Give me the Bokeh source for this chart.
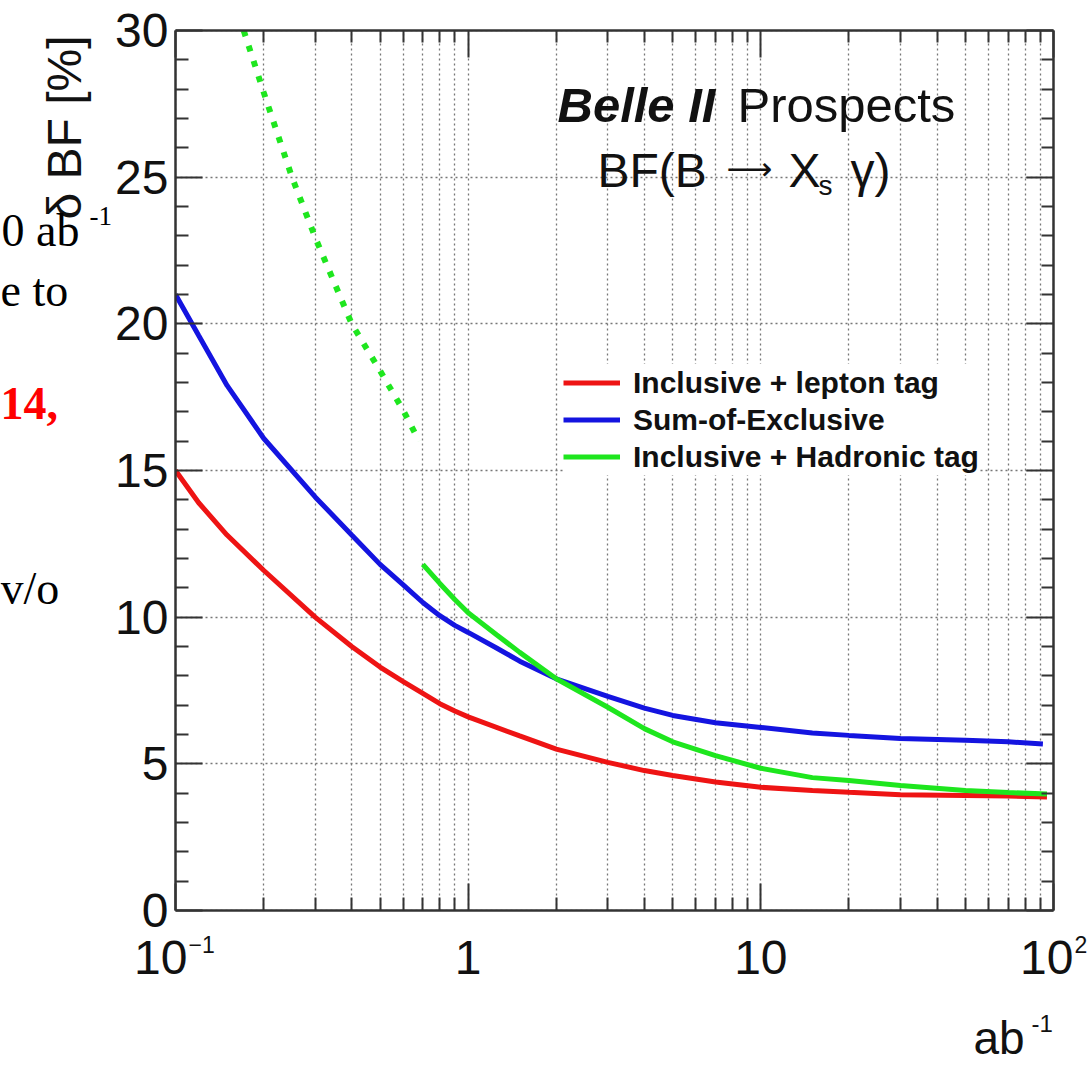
import math
from bokeh.plotting import figure
from bokeh.models import (FixedTicker, LogAxis, LinearAxis, Label, Legend,
                          LegendItem, Range1d, Grid, BoxAnnotation,
                          CustomJSTickFormatter)
from bokeh.embed import file_html
from bokeh.resources import INLINE

# ---------------- data ----------------
lep_x = [0.1, 0.12, 0.15, 0.2, 0.3, 0.4, 0.5, 0.6, 0.7, 0.8, 0.9, 1.0, 1.5, 2, 3,
         4, 5, 7, 10, 15, 20, 30, 50, 70, 95]
lep_y = [15.0, 13.9, 12.8, 11.6, 10.0, 9.0, 8.3, 7.8, 7.4, 7.05, 6.8, 6.6, 5.95,
         5.5, 5.05, 4.77, 4.6, 4.38, 4.2, 4.09, 4.03, 3.95, 3.92, 3.9, 3.87]

soe_x = [0.1, 0.12, 0.15, 0.2, 0.3, 0.4, 0.5, 0.6, 0.7, 0.8, 0.9, 1.0, 1.25, 1.5,
         2, 3, 4, 5, 7, 10, 15, 20, 30, 50, 70, 92]
soe_y = [21.0, 19.6, 17.9, 16.1, 14.1, 12.8, 11.8, 11.1, 10.5, 10.05, 9.72, 9.48,
         8.95, 8.5, 7.9, 7.3, 6.9, 6.65, 6.4, 6.24, 6.05, 5.97, 5.86, 5.8, 5.75,
         5.68]

had_x = [0.7, 0.8, 0.9, 1.0, 1.25, 1.5, 2, 3, 4, 5, 7, 10, 15, 20, 30, 50, 70, 95]
had_y = [11.8, 11.15, 10.6, 10.15, 9.4, 8.8, 7.9, 6.93, 6.2, 5.75, 5.28, 4.85,
         4.53, 4.43, 4.26, 4.09, 4.02, 3.97]

had_low_x = [0.171, 0.2, 0.25, 0.3, 0.4, 0.5, 0.6, 0.68]
had_low_y = [30.0, 27.9, 25.0, 22.95, 20.0, 18.4, 17.05, 16.0]

series_names = ["Inclusive + lepton tag", "Sum-of-Exclusive",
                "Inclusive + Hadronic tag"]

x_major = [0.1, 1, 10, 100]
x_minor = [0.2, 0.3, 0.4, 0.5, 0.6, 0.7, 0.8, 0.9, 2, 3, 4, 5, 6, 7, 8, 9,
           20, 30, 40, 50, 60, 70, 80, 90]
x_tick_base = ["10", "1", "10", "10"]
x_tick_exp = ["\u22121", "", "", "2"]
y_major = [0, 5, 10, 15, 20, 25, 30]
y_minor = [v for v in range(0, 31) if v % 5 != 0]
X_LO, X_HI = 0.1, 100
Y_LO, Y_HI = 0, 30

# ---------------- layout constants (page pixels) ----------------
W, H = 1090, 1064
FL, FR, FT, FB = 175, 1053, 30, 910      # ROOT plot frame on the page
DEC = (FR - FL) / 3.0                    # px per decade
YPX = (FB - FT) / 30.0                   # px per unit
SANS = "Liberation Sans"
SERIF = "Liberation Serif"
RED, BLUE, GREEN = "#ee1414", "#1414e0", "#1ee61e"
AX = "#333333"
TXT = "#111111"

# the Bokeh frame fills the canvas; the ROOT frame is drawn by fixed axes
xr = Range1d(10 ** (math.log10(X_LO) - FL / DEC),
             10 ** (math.log10(X_HI) + (W - FR) / DEC))
yr = Range1d(Y_LO - (H - FB) / YPX, Y_HI + FT / YPX)

p = figure(width=W, height=H, x_range=xr, y_range=yr, x_axis_type="log",
           x_axis_location=None, y_axis_location=None,
           output_backend="svg", toolbar_location=None,
           min_border_left=0, min_border_right=0, min_border_top=0,
           min_border_bottom=0)
p.background_fill_color = "white"
p.border_fill_color = "white"
p.outline_line_color = None
for g in list(p.center):
    if isinstance(g, Grid):
        p.center.remove(g)

xt = FixedTicker(ticks=x_major, minor_ticks=x_minor)
yt = FixedTicker(ticks=y_major, minor_ticks=y_minor)
blank = CustomJSTickFormatter(code="return ''")


def style_axis(ax):
    ax.axis_line_color = AX
    ax.axis_line_width = 2.5
    ax.major_tick_line_color = AX
    ax.minor_tick_line_color = AX
    ax.major_tick_line_width = 2
    ax.minor_tick_line_width = 2
    ax.major_tick_in = 27
    ax.major_tick_out = 0
    ax.minor_tick_in = 13
    ax.minor_tick_out = 0


# grids (dotted), limited to the plot area
grid_kw = dict(grid_line_color="#777777", grid_line_width=1.3,
               grid_line_dash="2 3")
xg = Grid(dimension=0, ticker=xt, bounds=(X_LO, X_HI), **grid_kw)
xg.minor_grid_line_color = "#777777"
xg.minor_grid_line_width = 1.3
xg.minor_grid_line_dash = "2 3"
yg = Grid(dimension=1, ticker=yt, bounds=(Y_LO, Y_HI), **grid_kw)
try:
    xg.cross_bounds = (Y_LO, Y_HI)
    yg.cross_bounds = (X_LO, X_HI)
except Exception:
    pass
p.add_layout(xg)
p.add_layout(yg)
# white masks outside the plot area (above the grid, below the curves/axes)
for kw in (dict(top=Y_LO), dict(bottom=Y_HI), dict(right=X_LO), dict(left=X_HI)):
    p.add_layout(BoxAnnotation(fill_color="white", fill_alpha=1.0,
                               line_color=None, level="glyph", **kw))

left = LinearAxis(ticker=yt, fixed_location=X_LO, bounds=(Y_LO, Y_HI))
style_axis(left)
left.major_label_text_font = SANS
left.major_label_text_font_size = "48px"
left.major_label_text_color = TXT
left.major_label_standoff = 7
p.add_layout(left, "left")

right = LinearAxis(ticker=yt, fixed_location=X_HI, bounds=(Y_LO, Y_HI),
                   formatter=blank)
style_axis(right)
right.minor_tick_in = 12
p.add_layout(right, "right")

bottom = LogAxis(ticker=xt, fixed_location=Y_LO, bounds=(X_LO, X_HI),
                 formatter=blank)
style_axis(bottom)
p.add_layout(bottom, "below")

top = LogAxis(ticker=xt, fixed_location=Y_HI, bounds=(X_LO, X_HI),
              formatter=blank)
style_axis(top)
top.minor_tick_in = 12
p.add_layout(top, "above")

# curves
r_lep = p.line(lep_x, lep_y, line_color=RED, line_width=5)
r_soe = p.line(soe_x, soe_y, line_color=BLUE, line_width=5)
r_had = p.line(had_x, had_y, line_color=GREEN, line_width=5)
p.line(had_low_x, had_low_y, line_color=GREEN, line_width=6, line_dash="6 10")

legend = Legend(items=[LegendItem(label=series_names[0], renderers=[r_lep]),
                       LegendItem(label=series_names[1], renderers=[r_soe]),
                       LegendItem(label=series_names[2], renderers=[r_had])],
                location=(563, H - 475),
                label_text_font=SANS, label_text_font_size="30px",
                label_text_font_style="bold", label_text_color=TXT,
                glyph_width=57, glyph_height=37, label_height=37,
                label_standoff=13, spacing=0, padding=8, margin=0,
                border_line_color=None, background_fill_color="white",
                background_fill_alpha=1.0)
p.add_layout(legend)


def lab(text, px, base_py, size, font=SANS, **kw):
    """Text whose alphabetic baseline sits at page y = base_py."""
    kw.setdefault("text_color", TXT)
    return Label(x=px, y=H - (base_py - 0.375 * size), x_units="screen",
                 y_units="screen", text=text, text_font=font,
                 text_font_size=f"{size}px", text_baseline="alphabetic", **kw)


# x tick labels with superscripts, positioned through the x scale
SUP = 23
for val, base, ex in zip(x_major, x_tick_base, x_tick_exp):
    yb = H - (975 - 0.375 * 48)
    if ex == "":
        p.add_layout(Label(x=val, y=yb, x_units="data", y_units="screen",
                           text=base, text_font=SANS, text_font_size="48px",
                           text_align="center", text_baseline="alphabetic",
                           text_color=TXT))
    else:
        shift = 12 if len(ex) > 1 else 20
        p.add_layout(Label(x=val, y=yb, x_units="data", y_units="screen",
                           x_offset=shift, text=base, text_font=SANS,
                           text_font_size="48px", text_align="right",
                           text_baseline="alphabetic", text_color=TXT))
        p.add_layout(Label(x=val, y=H - (953 - 0.375 * SUP), x_units="data",
                           y_units="screen", x_offset=shift + 1, text=ex,
                           text_font=SANS, text_font_size=f"{SUP}px",
                           text_align="left", text_baseline="alphabetic",
                           text_color=TXT))

# axis titles
p.add_layout(Label(x=82 - 0.375 * 48, y=H - 35, x_units="screen",
                   y_units="screen", text="\u03b4 BF [%]", text_font=SANS,
                   text_font_size="48px", text_color=TXT, angle=math.pi / 2,
                   text_align="right", text_baseline="alphabetic"))
p.add_layout(lab("ab", 973, 1055, 46))
p.add_layout(lab("-1", 1031, 1032, 24))

# header text
p.add_layout(lab("Belle II", 557, 123, 49, text_font_style="bold italic"))
p.add_layout(lab("Prospects", 737, 123, 49))
p.add_layout(lab("BF(B", 597, 188, 48))
p.add_layout(lab("\u27f6", 726, 180, 32, font="DejaVu Sans"))
p.add_layout(lab("X", 788, 188, 48))
p.add_layout(lab("s", 818, 195, 28))
p.add_layout(lab("\u03b3)", 850, 188, 48))

# slide text fragments at the left edge
p.add_layout(lab("0 ab", 1, 247, 46, font=SERIF, text_color="black"))
p.add_layout(lab("-1", 89, 226, 27, font=SERIF, text_color="black"))
p.add_layout(lab("e to", 0, 307, 46, font=SERIF, text_color="black"))
p.add_layout(lab("14,", 0, 420, 46, font=SERIF, text_color="#ff0000",
                 text_font_style="bold"))
p.add_layout(lab("v/o", 0, 605, 46, font=SERIF, text_color="black"))

open("out.html", "w").write(file_html(p, INLINE))
